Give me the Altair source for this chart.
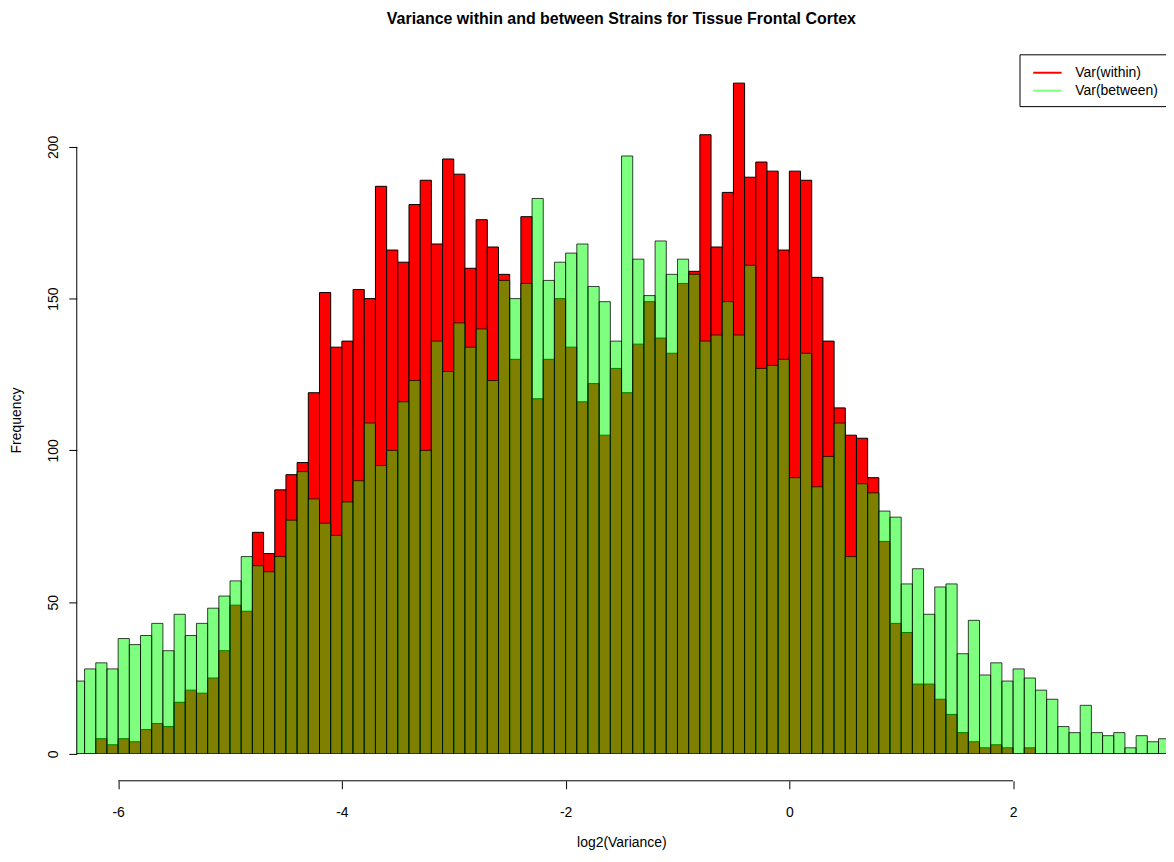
import altair as alt
import numpy as np
import pandas as pd

# ---- data ----
bin_starts = [round(-6.4 + 0.1 * k, 1) for k in range(98)]
bin_ends = [round(s + 0.1, 1) for s in bin_starts]

var_within = [0, 0, 5, 3, 5, 4, 8, 10, 9, 17,
              21, 20, 25, 34, 49, 47, 73, 66, 87, 92,
              96, 119, 152, 134, 136, 153, 150, 187, 166, 162,
              181, 189, 168, 196, 191, 160, 176, 167, 158, 130,
              177, 117, 130, 150, 134, 116, 122, 105, 127, 119,
              135, 149, 137, 132, 155, 159, 204, 167, 185, 221,
              190, 195, 192, 166, 192, 189, 157, 136, 114, 105,
              104, 91, 70, 43, 40, 23, 23, 18, 13, 7,
              4, 2, 3, 2, 0, 2, 0, 0, 0, 0,
              0, 0, 0, 0, 0, 0, 0, 0]

var_between = [24, 28, 30, 28, 38, 36, 39, 43, 34, 46,
               39, 43, 48, 52, 57, 65, 62, 60, 65, 77,
               93, 84, 76, 72, 83, 90, 109, 95, 100, 116,
               123, 100, 136, 126, 142, 134, 140, 123, 156, 150,
               155, 183, 156, 162, 165, 168, 154, 149, 136, 197,
               163, 151, 169, 158, 163, 158, 136, 138, 149, 138,
               161, 127, 128, 130, 91, 132, 88, 98, 109, 65,
               89, 86, 80, 78, 56, 61, 46, 55, 56, 33,
               44, 26, 30, 24, 28, 25, 21, 18, 9, 7,
               16, 7, 6, 7, 2, 6, 4, 5]

series_labels = ["Var(within)", "Var(between)"]
x_ticks = [-6, -4, -2, 0, 2]
y_ticks = [0, 50, 100, 150, 200]

df = pd.DataFrame({"start": bin_starts, "end": bin_ends,
                   "within": var_within, "between": var_between})
legend_df = pd.DataFrame({"series": series_labels})
one = pd.DataFrame({"a": [0]})

FONT = "Liberation Sans"
W, H = 1093, 695
XOFF = 27
xscale = alt.Scale(domain=[-6.37, 3.367], nice=False, zero=False)
yscale = alt.Scale(domain=[0, 228.2], nice=False, zero=True)

xaxis = alt.Axis(values=x_ticks, domain=False, offset=XOFF, tickSize=8,
                 tickColor="black", grid=False, labelFontSize=14, labelFont=FONT,
                 labelColor="black", labelPadding=17, labelExpr="datum.value + ''",
                 title="log2(Variance)", titleFontSize=14, titleFont=FONT,
                 titleFontWeight="normal", titleColor="black", titlePadding=16)
yaxis = alt.Axis(values=y_ticks, domain=False, offset=0, tickSize=8,
                 tickColor="black", grid=False, labelFontSize=14, labelFont=FONT,
                 labelColor="black", labelAngle=270, labelAlign="center",
                 labelBaseline="bottom", labelPadding=8,
                 title="Frequency", titleFontSize=14, titleFont=FONT,
                 titleFontWeight="normal", titleColor="black", titleY=360,
                 titleX=-56, titleBaseline="alphabetic", titleAlign="center",
                 titleAngle=270)

base = alt.Chart(df)
red = base.mark_bar(fill="#ff0000", stroke="black", strokeWidth=1, clip=True).encode(
    x=alt.X("start:Q", scale=xscale, axis=xaxis),
    x2="end:Q",
    y=alt.Y("within:Q", scale=yscale, axis=yaxis),
    y2=alt.datum(0),
)
green = base.mark_bar(fill="#00ff00", fillOpacity=0.5, stroke="black",
                      strokeWidth=1, strokeOpacity=0.75, clip=True).encode(
    x="start:Q", x2="end:Q", y="between:Q", y2=alt.datum(0)
)

xline = alt.Chart(one).mark_rule(color="black", strokeWidth=1).encode(
    x=alt.datum(x_ticks[0]), x2=alt.datum(x_ticks[-1]), y=alt.value(H + XOFF)
)
yline = alt.Chart(one).mark_rule(color="black", strokeWidth=1).encode(
    x=alt.value(0), y=alt.datum(y_ticks[0]), y2=alt.datum(y_ticks[-1])
)

legend_layer = alt.Chart(legend_df).mark_rule(strokeCap="butt").encode(
    x=alt.value(0), x2=alt.value(0), y=alt.value(0), y2=alt.value(0),
    color=alt.Color("series:N",
                    scale=alt.Scale(domain=series_labels, range=["#ff0000", "#80ff80"]),
                    legend=alt.Legend(orient="none", legendX=946, legendY=-7, title=None,
                                      symbolType="M-0.5,0L2.5,0", symbolSize=361,
                                      symbolStrokeWidth=2, labelFontSize=14,
                                      labelFont=FONT, labelColor="black",
                                      labelOffset=27, strokeColor="black",
                                      fillColor="white", padding=8, rowPadding=0)),
)

chart = alt.layer(red, green, xline, yline, legend_layer).properties(
    width=W, height=H,
    title=alt.TitleParams("Variance within and between Strains for Tissue Frontal Cortex",
                          fontSize=16, fontWeight="bold", font=FONT, color="black",
                          anchor="middle", offset=27),
    autosize=alt.AutoSizeParams(type="none"),
    padding={"left": 69, "top": 52, "right": 0, "bottom": 99},
).configure_view(stroke=None)

chart.save("out.html", embed_options={"renderer": "svg", "actions": False})
